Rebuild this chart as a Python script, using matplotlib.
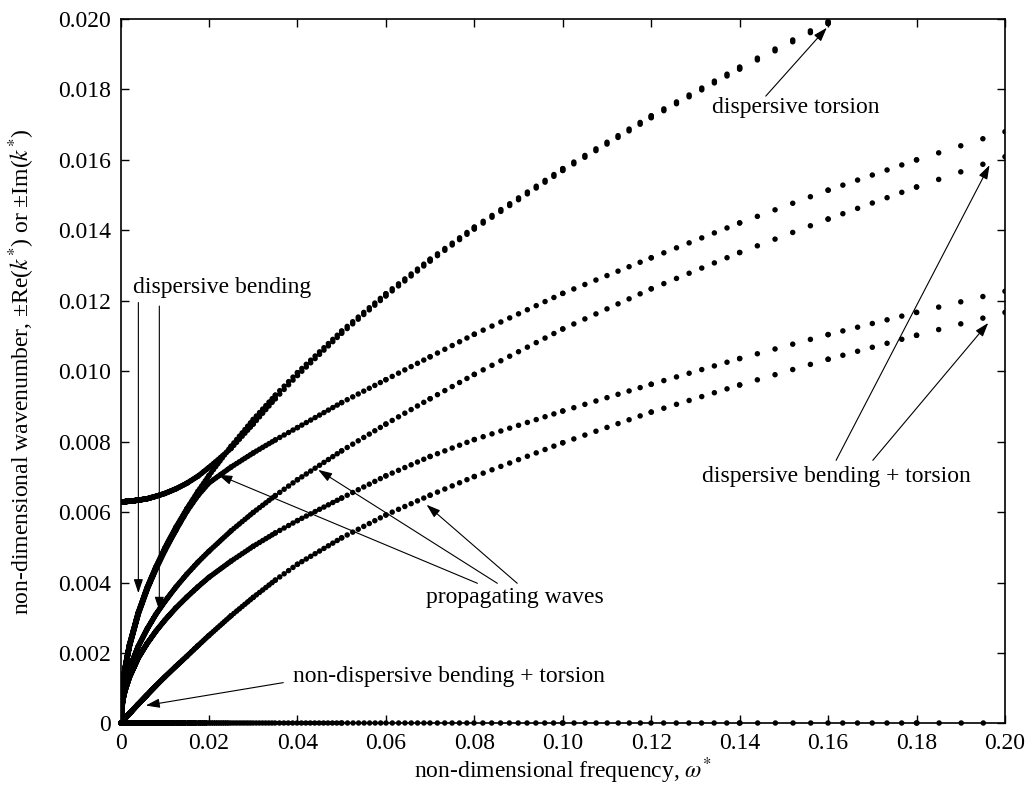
import numpy as np
import matplotlib
matplotlib.use('Agg')
import matplotlib.pyplot as plt

omega = [0, 0.0005, 0.001, 0.002, 0.004, 0.006, 0.008, 0.01, 0.0125, 0.015, 0.0175, 0.02,
         0.025, 0.03, 0.035, 0.04, 0.05, 0.06, 0.07, 0.08, 0.10, 0.12, 0.14, 0.16, 0.18, 0.20]

k_zero = [0.0] * len(omega)
k_torsion = [0.0063, 0.0063, 0.0063, 0.00631, 0.00634, 0.00638, 0.00645, 0.00653, 0.00666, 0.00682,
             0.00702, 0.00727, 0.00781, 0.0085, 0.00922, 0.00988, 0.01108, 0.01214, 0.01313, 0.01404,
             0.0157, 0.0172, 0.01858, 0.01987, 0.0211, 0.0222]
k_bend1 = [0, 0.00111, 0.00157, 0.00223, 0.00315, 0.00386, 0.00445, 0.00498, 0.00557, 0.0061,
           0.00659, 0.00704, 0.00787, 0.00863, 0.00932, 0.00996, 0.01114, 0.0122, 0.01318, 0.01409,
           0.01575, 0.01725, 0.01863, 0.01992, 0.02113, 0.02227]
k_bend2 = [0, 0.00108, 0.00153, 0.00218, 0.0031, 0.0038, 0.00438, 0.0049, 0.00548, 0.00602,
           0.00647, 0.00683, 0.00728, 0.00768, 0.00805, 0.0084, 0.00911, 0.00976, 0.01041, 0.01105,
           0.01221, 0.01322, 0.01421, 0.01514, 0.016, 0.0168]
k_bend3 = [0, 0.00077, 0.0011, 0.00155, 0.00219, 0.00268, 0.0031, 0.00346, 0.00387, 0.00424,
           0.00458, 0.00489, 0.00547, 0.00599, 0.00647, 0.00692, 0.00774, 0.0085, 0.00922, 0.00991,
           0.0112, 0.01234, 0.01337, 0.01432, 0.01523, 0.01609]
k_bend4 = [0, 0.00066, 0.00093, 0.00131, 0.00186, 0.00227, 0.00262, 0.00293, 0.00328, 0.00359,
           0.00388, 0.00415, 0.00461, 0.00503, 0.00541, 0.00576, 0.0064, 0.00703, 0.00758, 0.00806,
           0.00887, 0.00963, 0.01036, 0.01104, 0.01167, 0.01227]
k_bend5 = [0, 0.00007, 0.00014, 0.00028, 0.00055, 0.00081, 0.00107, 0.00132, 0.00162, 0.00191,
           0.00221, 0.0025, 0.00306, 0.00358, 0.00407, 0.00452, 0.00527, 0.00592, 0.00648, 0.00701,
           0.00797, 0.00884, 0.00961, 0.01034, 0.01102, 0.01167]

curves = [k_zero, k_torsion, k_bend1, k_bend2, k_bend3, k_bend4, k_bend5]

xticks = [0, 0.02, 0.04, 0.06, 0.08, 0.10, 0.12, 0.14, 0.16, 0.18, 0.20]
xlabels = ['0', '0.02', '0.04', '0.06', '0.08', '0.10', '0.12', '0.14', '0.16', '0.18', '0.20']
yticks = [0, 0.002, 0.004, 0.006, 0.008, 0.010, 0.012, 0.014, 0.016, 0.018, 0.020]
ylabels = ['0', '0.002', '0.004', '0.006', '0.008', '0.010', '0.012', '0.014', '0.016', '0.018', '0.020']

plt.rcParams['font.family'] = ['Liberation Serif', 'DejaVu Serif']
plt.rcParams['mathtext.fontset'] = 'stix'
plt.rcParams['lines.scale_dashes'] = False

fig = plt.figure(figsize=(10.25, 7.87), dpi=100)
ax = fig.add_axes([0.1176, 0.0807, 0.8629, 0.8952])
ax.set_xlim(0, 0.2)
ax.set_ylim(0, 0.02)

# dots sit on a geometric frequency sweep, so they thin out to the right
step = np.log(1.023)
def dot_index(w):
    return np.round(np.log(max(w, 1e-4)) / step)

lw = 4.0
for j, k in enumerate(curves):
    pts = ax.transData.transform(np.column_stack([omega, k]))
    for i in range(len(omega) - 1):
        n = max(1, int(dot_index(omega[i + 1]) - dot_index(omega[i])))
        seg = np.hypot(*(pts[i + 1] - pts[i])) * 72 / fig.dpi
        s = max(seg / n * 0.9995, 0.03)
        ax.plot(omega[i:i + 2], k[i:i + 2], color='black', lw=lw,
                linestyle=(0, (0.01, s - 0.01)), dash_capstyle='round',
                clip_on=(j != 0))

ax.set_xticks(xticks)
ax.set_xticklabels(xlabels)
ax.set_yticks(yticks)
ax.set_yticklabels(ylabels)
ax.tick_params(direction='in', top=True, right=True, length=6, width=1,
               labelsize=17, pad=7)
for sp in ax.spines.values():
    sp.set_linewidth(1.2)

ax.set_xlabel(r'non-dimensional frequency, $\omega^{*}$', fontsize=17)
ax.set_ylabel(r'non-dimensional wavenumber, ±Re($k^{*}$) or ±Im($k^{*}$)', fontsize=17)
ax.xaxis.set_label_coords(0.5, -0.046)
ax.yaxis.set_label_coords(-0.095, 0.5)

arrow = dict(arrowstyle='-|>,head_length=0.6,head_width=0.2', mutation_scale=14,
             lw=0.8, color='black', shrinkA=0, shrinkB=0)

def pointer(start, tip):
    ax.annotate('', xy=tip, xytext=start, arrowprops=arrow)

ax.text(0.0028, 0.01238, 'dispersive bending', fontsize=17, ha='left', va='center')
pointer((0.00403, 0.01195), (0.00403, 0.0037))
pointer((0.00877, 0.01185), (0.00877, 0.0032))

ax.text(0.0892, 0.00357, 'propagating waves', fontsize=17, ha='center', va='center')
pointer((0.0807, 0.00398), (0.0221, 0.00706))
pointer((0.0852, 0.00398), (0.0447, 0.0072))
pointer((0.0897, 0.00398), (0.0692, 0.00621))

ax.text(0.0743, 0.00133, 'non-dispersive bending + torsion', fontsize=17, ha='center', va='center')
pointer((0.0368, 0.00116), (0.0057, 0.00051))

ax.text(0.1337, 0.01748, 'dispersive torsion', fontsize=17, ha='left', va='center')
pointer((0.1459, 0.01781), (0.1597, 0.01975))

ax.text(0.1618, 0.00701, 'dispersive bending + torsion', fontsize=17, ha='center', va='center')
pointer((0.1618, 0.00747), (0.1965, 0.01585))
pointer((0.1701, 0.00747), (0.1962, 0.01137))

fig.savefig('out.png', dpi=100)
